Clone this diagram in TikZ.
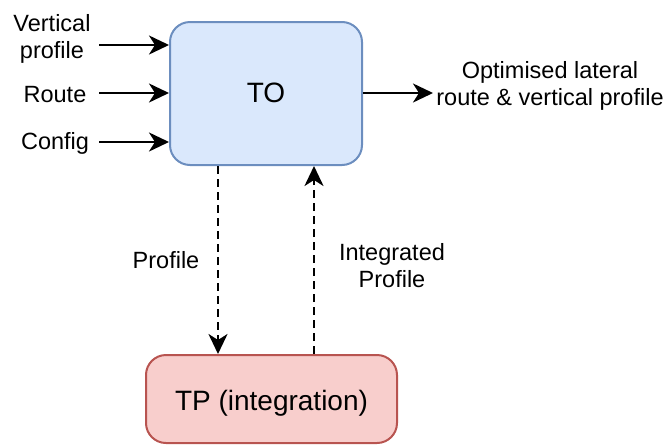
\documentclass[tikz,border=0pt]{standalone}
\usepackage{fontspec}
\setmainfont{Liberation Sans}
\usetikzlibrary{arrows.meta}
\definecolor{toFill}{HTML}{DAE8FC}
\definecolor{toLine}{HTML}{6C8EBF}
\definecolor{tpFill}{HTML}{F8CECC}
\definecolor{tpLine}{HTML}{B85450}
\tikzset{
  box/.style={draw, line width=2pt, rounded corners=20pt, inner sep=0pt},
  boxtext/.style={inner sep=0pt, anchor=base, font=\fontsize{28}{32}\selectfont},
  % multi-line labels are placed by the baseline of their last line
  lbl/.style={inner sep=0pt, align=center, anchor=base, font=\fontsize{23.5}{27}\selectfont},
  flow/.style={line width=2.4pt, -{Stealth[length=20pt, width=19pt, inset=6pt]}},
  dflow/.style={flow, dash pattern=on 8pt off 5pt},
}
\begin{document}
\begin{tikzpicture}[x=1pt, y=-1pt]
  \useasboundingbox (0,0) rectangle (667,445);

  % main blocks
  \node[box, fill=toFill, draw=toLine, minimum width=192pt, minimum height=143pt]
    (TO) at (266,93.5) {};
  \node[boxtext] (TOt) at (266,102) {TO};
  \node[box, fill=tpFill, draw=tpLine, minimum width=251pt, minimum height=88pt]
    (TP) at (271.5,399) {};
  \node[boxtext] (TPt) at (271.5,410) {TP (integration)};

  % inputs on the left
  \node[lbl] (vp) at (52,58) {Vertical\\profile};
  \node[lbl] (rt) at (55,102) {Route};
  \node[lbl] (cf) at (55,149) {Config};
  \coordinate (vpS) at (99,45);
  \coordinate (rtS) at (99,93);
  \coordinate (cfS) at (99,142);
  \draw[flow] (vpS) -- (vpS -| TO.west);
  \draw[flow] (rtS) -- (rtS -| TO.west);
  \draw[flow] (cfS) -- (cfS -| TO.west);

  % output on the right
  \node[lbl] (out) at (550,105) {Optimised lateral\\route \& vertical profile};
  \coordinate (outE) at (433,93);
  \draw[flow] (TO.east |- outE) -- (outE);

  % exchange between the blocks
  \draw[dflow] ([xshift=-48pt]TO.south) -- ([xshift=-53.5pt]TP.north);
  \draw[dflow] ([xshift=42.5pt]TP.north) -- ([xshift=48pt]TO.south);
  \node[lbl] (pf) at (166,268) {Profile};
  \node[lbl] (ipf) at (392,287) {Integrated\\Profile};
\end{tikzpicture}
\end{document}
